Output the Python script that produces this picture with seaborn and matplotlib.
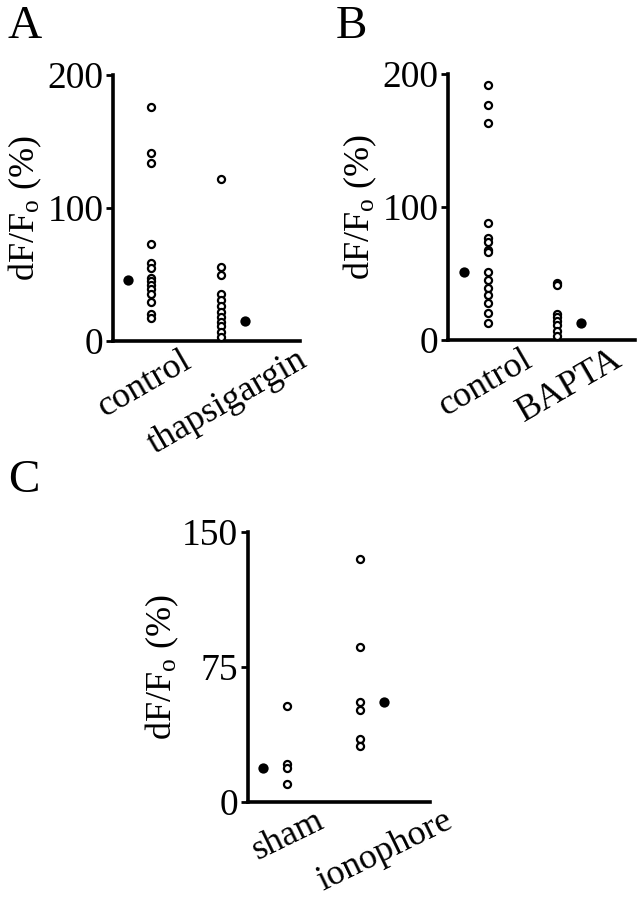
import pandas as pd
import matplotlib
matplotlib.use("Agg")
import matplotlib.pyplot as plt
import seaborn as sns

# Data (dF/Fo in %)
a_groups = ["control", "thapsigargin"]
a_control = [176, 141, 134, 73, 59, 55, 47, 45, 42, 39, 35, 29, 20, 17]
a_thapsigargin = [122, 56, 50, 35, 31, 26, 22, 18, 14.5, 11, 7, 3]
a_medians = [46, 15]

b_groups = ["control", "BAPTA"]
b_control = [192, 177, 163, 88, 77, 74, 68, 66, 51, 45, 39, 34, 28, 20, 13]
b_bapta = [43, 41, 19.5, 17, 14.5, 11, 7, 3]
b_medians = [51, 13]

c_groups = ["sham", "ionophore"]
c_sham = [53, 21, 18.5, 10]
c_ionophore = [135, 86, 55.5, 51, 35, 31]
c_medians = [18.5, 55.5]

SERIF = "Liberation Serif"
FS = 27


def make_frame(groups, values, medians, centers, off):
    rows = []
    for i, (g, vals) in enumerate(zip(groups, values)):
        # open circles on the inner side, filled summary dot on the outer side
        side = 1 if i == 0 else -1
        for v in vals:
            rows.append({"x": centers[i] + side * off, "y": v, "kind": "cell"})
        rows.append({"x": centers[i] - side * off, "y": medians[i], "kind": "summary"})
    return pd.DataFrame(rows)


def draw_panel(ax, df, ymax, yticks, labels, label_pos, rot):
    cells = df[df.kind == "cell"]
    summ = df[df.kind == "summary"]
    sns.scatterplot(data=cells, x="x", y="y", ax=ax, s=26, marker="o",
                    facecolor="white", edgecolor="black", linewidth=1.6,
                    legend=False, zorder=3, clip_on=False)
    sns.scatterplot(data=summ, x="x", y="y", ax=ax, s=55, marker="o",
                    color="black", linewidth=0, legend=False, zorder=3,
                    clip_on=False)
    ax.set_xlim(0, 2)
    ax.set_ylim(0, ymax)
    ax.set_yticks(yticks)
    ax.set_yticklabels([str(t) for t in yticks], fontsize=FS, family=SERIF)
    ax.set_xticks(label_pos)
    ax.set_xticklabels(labels, fontsize=FS - 1, family=SERIF, rotation=rot,
                       ha="center", va="top")
    ax.tick_params(axis="x", length=0, pad=2)
    ax.tick_params(axis="y", direction="out", length=5, width=2, pad=2,
                   colors="black")
    ax.set_xlabel("")
    ax.set_ylabel("dF/F$_{\\mathrm{o}}$ (%)", fontsize=FS - 1, family=SERIF,
                  color="black")
    ax.yaxis.set_label_coords(-0.37, 0.5)
    sns.despine(ax=ax)
    for side in ["left", "bottom"]:
        ax.spines[side].set_linewidth(2.6)
        ax.spines[side].set_color("black")


sns.set_style("ticks")
plt.rcParams["font.family"] = [SERIF, "DejaVu Serif"]
plt.rcParams["text.color"] = "black"
plt.rcParams["axes.labelcolor"] = "black"
plt.rcParams["xtick.color"] = "black"
plt.rcParams["ytick.color"] = "black"
plt.rcParams["mathtext.fontset"] = "custom"
plt.rcParams["mathtext.rm"] = SERIF
plt.rcParams["mathtext.it"] = SERIF + ":italic"

fig = plt.figure(figsize=(6.43, 9), dpi=100)
fig.patch.set_facecolor("white")

ax_a = fig.add_axes([0.1757, 0.6211, 0.2908, 0.2956])
ax_b = fig.add_axes([0.6967, 0.6222, 0.2908, 0.2956])
ax_c = fig.add_axes([0.3857, 0.1092, 0.2830, 0.3000])

df_a = make_frame(a_groups, [a_control, a_thapsigargin], a_medians, [0.283, 1.283], 0.125)
df_b = make_frame(b_groups, [b_control, b_bapta], b_medians, [0.30, 1.29], 0.128)
df_c = make_frame(c_groups, [c_sham, c_ionophore], c_medians, [0.296, 1.36], 0.13)

draw_panel(ax_a, df_a, 200, [0, 100, 200], a_groups, [0.34, 1.23], 30)
draw_panel(ax_b, df_b, 200, [0, 100, 200], b_groups, [0.40, 1.30], 30)
draw_panel(ax_c, df_c, 150, [0, 75, 150], c_groups, [0.44, 1.50], 26)

for letter, x, y in [("A", 8, 38), ("B", 336, 38), ("C", 8, 492)]:
    fig.text(x / 643, 1 - y / 900, letter, fontsize=34, family=SERIF,
             ha="left", va="baseline", color="black")

fig.savefig("out.png", dpi=100, facecolor="white")
